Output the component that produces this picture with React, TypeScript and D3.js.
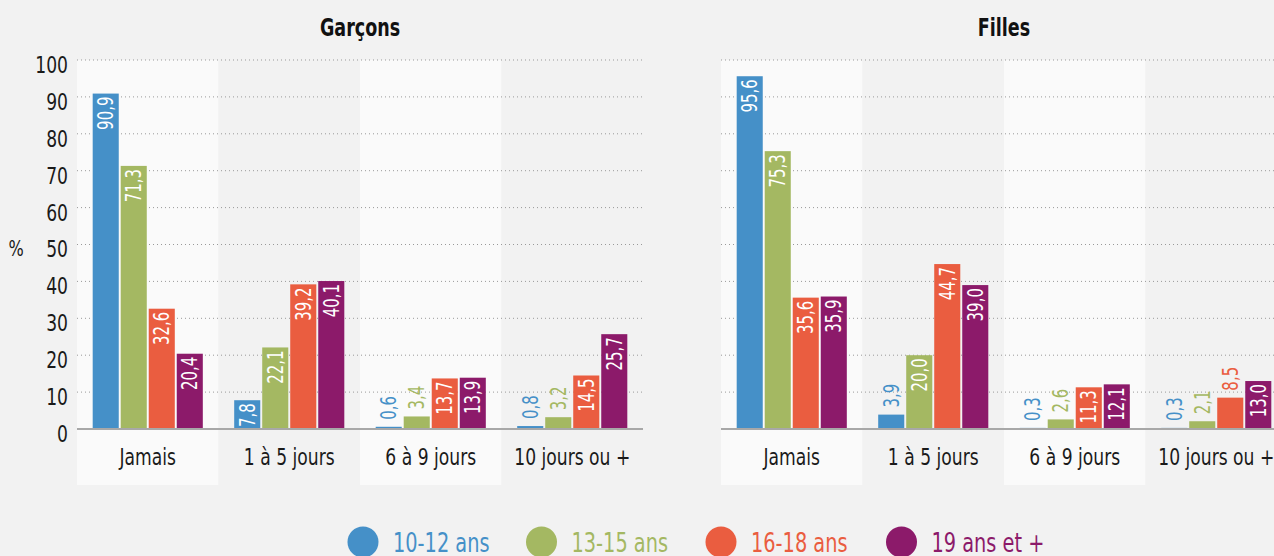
import React from "react";
import * as d3 from "d3";

const categories = ["Jamais", "1 à 5 jours", "6 à 9 jours", "10 jours ou +"];
const seriesNames = ["10-12 ans", "13-15 ans", "16-18 ans", "19 ans et +"];
const seriesColors = ["#4590c8", "#a4b862", "#ea5d40", "#8c1a6a"];
const panelTitles = ["Garçons", "Filles"];
// values[category][series]
const garconsValues = [
  [90.9, 71.3, 32.6, 20.4],
  [7.8, 22.1, 39.2, 40.1],
  [0.6, 3.4, 13.7, 13.9],
  [0.8, 3.2, 14.5, 25.7],
];
const fillesValues = [
  [95.6, 75.3, 35.6, 35.9],
  [3.9, 20.0, 44.7, 39.0],
  [0.3, 2.6, 11.3, 12.1],
  [0.3, 2.1, 8.5, 13.0],
];
// labels drawn above the bar (panel, category, series)
const outsideLabels = [
  [0, 2, 0], [0, 2, 1], [0, 3, 0], [0, 3, 1],
  [1, 1, 0], [1, 2, 0], [1, 2, 1], [1, 3, 0], [1, 3, 1], [1, 3, 2],
];
const yTicks = [0, 10, 20, 30, 40, 50, 60, 70, 80, 90, 100];

const W = 1274;
const H = 556;
const FONT = "'DejaVu Sans', 'Noto Sans', sans-serif";
const SX = 0.73; // horizontal squeeze to imitate a condensed face
const panelX = [77, 721];
const panelW = 566;
const yTop = 60;
const yBottom = 429;
const bandBottom = 485;

const fmt = (v: number) => v.toFixed(1).replace(".", ",");

type CTProps = {
  x: number;
  y: number;
  children: React.ReactNode;
  size: number;
  fill: string;
  anchor?: "start" | "middle" | "end";
  weight?: string;
  dy?: string;
  rotate?: number;
  dx?: number;
  sx?: number;
};

function CText({ x, y, children, size, fill, anchor = "start", weight = "normal", dy, rotate = 0, dx = 0, sx = SX }: CTProps) {
  return (
    <g transform={`translate(${x},${y}) rotate(${rotate}) scale(${sx},1)`}>
      <text
        x={dx / sx}
        dy={dy}
        textAnchor={anchor}
        fontFamily={FONT}
        fontSize={size}
        fontWeight={weight}
        fill={fill}
      >
        {children}
      </text>
    </g>
  );
}

function Panel({ idx, values }: { idx: number; values: number[][] }) {
  const x0 = panelX[idx];
  const x = d3.scaleBand<string>().domain(categories).range([x0, x0 + panelW]);
  const inner = d3
    .scaleBand<string>()
    .domain(seriesNames)
    .range([0, x.bandwidth()])
    .paddingOuter(0.56)
    .paddingInner(0.07);
  const y = d3.scaleLinear().domain([0, 100]).range([yBottom, yTop]);
  const isOutside = (c: number, s: number) =>
    outsideLabels.some((o) => o[0] === idx && o[1] === c && o[2] === s);

  return (
    <g>
      {categories.map((c, i) => (
        <rect
          key={"bg" + c}
          x={x(c)}
          y={yTop}
          width={x.bandwidth()}
          height={bandBottom - yTop}
          fill={i % 2 === 0 ? "#fafafa" : "#f2f2f2"}
        />
      ))}
      {yTicks.slice(1).map((t) => (
        <line
          key={"g" + t}
          x1={x0}
          x2={x0 + panelW}
          y1={y(t)}
          y2={y(t)}
          stroke="#999999"
          strokeWidth={1}
          strokeDasharray="1,3"
        />
      ))}
      <CText x={x0 + panelW / 2} y={35.5} anchor="middle" weight="bold" size={24} fill="#111">
        {panelTitles[idx]}
      </CText>
      {categories.map((c, ci) =>
        seriesNames.map((s, si) => {
          const v = values[ci][si];
          const bx = (x(c) as number) + (inner(s) as number);
          const bw = inner.bandwidth();
          const by = y(v);
          const cx = bx + bw / 2;
          const out = isOutside(ci, si);
          return (
            <g key={c + s}>
              <rect x={bx} y={by} width={bw} height={yBottom - by} fill={seriesColors[si]} />
              <CText
                x={cx}
                y={by}
                rotate={-90}
                dx={out ? 7 : -3}
                dy="0.36em"
                anchor={out ? "start" : "end"}
                size={20.5}
                fill={out ? seriesColors[si] : "#ffffff"}
              >
                {fmt(v)}
              </CText>
            </g>
          );
        })
      )}
      <line x1={x0} x2={x0 + panelW} y1={yBottom} y2={yBottom} stroke="#a8a8a8" strokeWidth={2} />
      {categories.map((c) => (
        <CText
          key={"cl" + c}
          x={(x(c) as number) + x.bandwidth() / 2}
          y={465}
          anchor="middle"
          size={23.5}
          fill="#1a1a1a"
        >
          {c}
        </CText>
      ))}
    </g>
  );
}

export default function App() {
  const y = d3.scaleLinear().domain([0, 100]).range([yBottom, yTop]);
  const legendX = [363, 541.5, 721, 901.5];
  return (
    <div style={{ position: "absolute", left: 0, top: 0 }}>
      <svg width={W} height={H} style={{ display: "block" }}>
        <rect x={0} y={0} width={W} height={H} fill="#f2f2f2" />
        {yTicks.map((t) => (
          <CText key={"yt" + t} x={68} y={y(t) + 4.5} dy="0.36em" anchor="end" size={23.5} fill="#1a1a1a">
            {t}
          </CText>
        ))}
        <CText x={16} y={248} dy="0.36em" anchor="middle" size={22} fill="#1a1a1a">
          %
        </CText>
        <Panel idx={0} values={garconsValues} />
        <Panel idx={1} values={fillesValues} />
        {seriesNames.map((s, i) => (
          <g key={"lg" + s}>
            <circle cx={legendX[i]} cy={542} r={15.5} fill={seriesColors[i]} />
            <CText x={legendX[i] + 30} y={551.5} size={26.5} fill={seriesColors[i]}>
              {s}
            </CText>
          </g>
        ))}
      </svg>
    </div>
  );
}
